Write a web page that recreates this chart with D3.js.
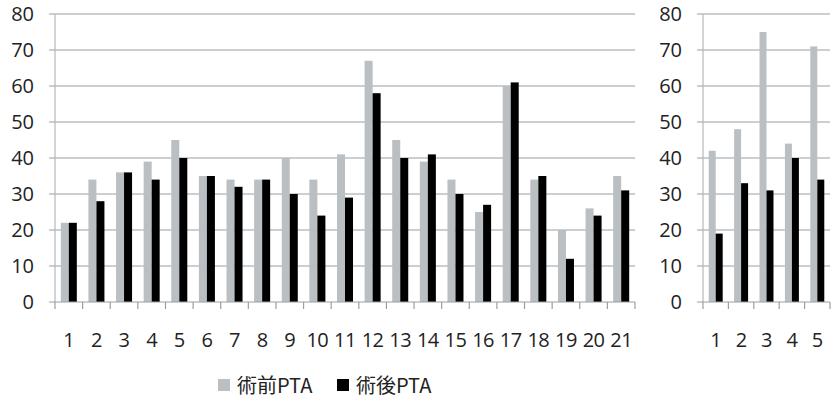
<!DOCTYPE html>
<html>
<head>
<meta charset="utf-8">
<script src="https://cdn.jsdelivr.net/npm/d3@7"></script>
<style>
  body { margin: 0; background: #fff; }
  svg { display: block; }
</style>
</head>
<body>
<script>
// Left panel: 21 cases
const leftCategories = ['1','2','3','4','5','6','7','8','9','10','11','12','13','14','15','16','17','18','19','20','21'];
const leftPre  = [22, 34, 36, 39, 45, 35, 34, 34, 40, 34, 41, 67, 45, 39, 34, 25, 60, 34, 20, 26, 35];
const leftPost = [22, 28, 36, 34, 40, 35, 32, 34, 30, 24, 29, 58, 40, 41, 30, 27, 61, 35, 12, 24, 31];

// Right panel: 5 cases
const rightCategories = ['1','2','3','4','5'];
const rightPre  = [42, 48, 75, 44, 71];
const rightPost = [19, 33, 31, 40, 34];

const yTicks = [0, 10, 20, 30, 40, 50, 60, 70, 80];
const seriesNames = ['術前PTA', '術後PTA'];
const seriesColors = ['#b9bfc3', '#000000'];

const width = 839, height = 401;
const svg = d3.select('body').append('svg')
  .attr('width', width)
  .attr('height', height);

const y = d3.scaleLinear().domain([0, 80]).range([302, 14]);

/**
 * Draw one bar panel
 */
function drawPanel(categories, pre, post, x0, x1, padInner) {
  const g = svg.append('g');
  const x = d3.scaleBand().domain(categories).range([x0, x1])
    .paddingInner(padInner).paddingOuter(padInner / 2);
  const sub = d3.scaleBand().domain([0, 1]).range([0, x.bandwidth()]);

  // gridlines with outside ticks
  g.append('g').selectAll('line').data(yTicks.slice(1)).join('line')
    .attr('x1', x0 - 6).attr('x2', x1)
    .attr('y1', d => y(d)).attr('y2', d => y(d))
    .attr('stroke', '#9aa0a4').attr('stroke-width', 1.2);

  // y axis line
  g.append('line')
    .attr('x1', x0).attr('x2', x0).attr('y1', y(80)).attr('y2', y(0))
    .attr('stroke', '#b4b8bb').attr('stroke-width', 1.2);

  // y labels
  g.append('g').selectAll('text').data(yTicks).join('text')
    .attr('x', x0 - 21).attr('y', d => y(d) + 7)
    .attr('text-anchor', 'end')
    .attr('font-family', 'Open Sans, sans-serif').attr('font-size', 20)
    .attr('fill', '#222')
    .text(d => d);

  // bars
  const rows = categories.map((c, i) => ({ c, vals: [pre[i], post[i]] }));
  const grp = g.append('g').selectAll('g').data(rows).join('g')
    .attr('transform', d => `translate(${x(d.c)},0)`);
  grp.selectAll('rect').data(d => d.vals).join('rect')
    .attr('x', (d, i) => sub(i))
    .attr('width', sub.bandwidth())
    .attr('y', d => y(d))
    .attr('height', d => y(0) - y(d))
    .attr('fill', (d, i) => seriesColors[i]);

  // x axis
  const xAxis = g.append('g');
  xAxis.append('line')
    .attr('x1', x0 - 6).attr('x2', x1).attr('y1', y(0)).attr('y2', y(0))
    .attr('stroke', '#9a9ea2').attr('stroke-width', 1.2);
  const step = x.step();
  xAxis.selectAll('line.tick').data(d3.range(categories.length + 1)).join('line')
    .attr('class', 'tick')
    .attr('x1', i => x0 + i * step).attr('x2', i => x0 + i * step)
    .attr('y1', y(0)).attr('y2', y(0) + 7)
    .attr('stroke', '#9a9ea2').attr('stroke-width', 1.2);
  xAxis.selectAll('text').data(categories).join('text')
    .attr('x', d => x(d) + x.bandwidth() / 2)
    .attr('y', 347)
    .attr('text-anchor', 'middle')
    .attr('font-family', 'Open Sans, sans-serif').attr('font-size', 20)
    .attr('letter-spacing', -0.5)
    .attr('fill', '#222')
    .text(d => d);
}

drawPanel(leftCategories, leftPre, leftPost, 55, 635, 0.42);
drawPanel(rightCategories, rightPre, rightPost, 703, 830, 0.45);

// legend
const legend = svg.append('g');
const legendX = [218, 337];
seriesNames.forEach((name, i) => {
  legend.append('rect')
    .attr('x', legendX[i]).attr('y', 379)
    .attr('width', 12).attr('height', 12)
    .attr('fill', seriesColors[i]);
  legend.append('text')
    .attr('x', legendX[i] + 19).attr('y', 393)
    .attr('font-family', 'Noto Sans CJK JP, sans-serif').attr('font-size', 20)
    .attr('fill', '#222')
    .text(name);
});
</script>
</body>
</html>
